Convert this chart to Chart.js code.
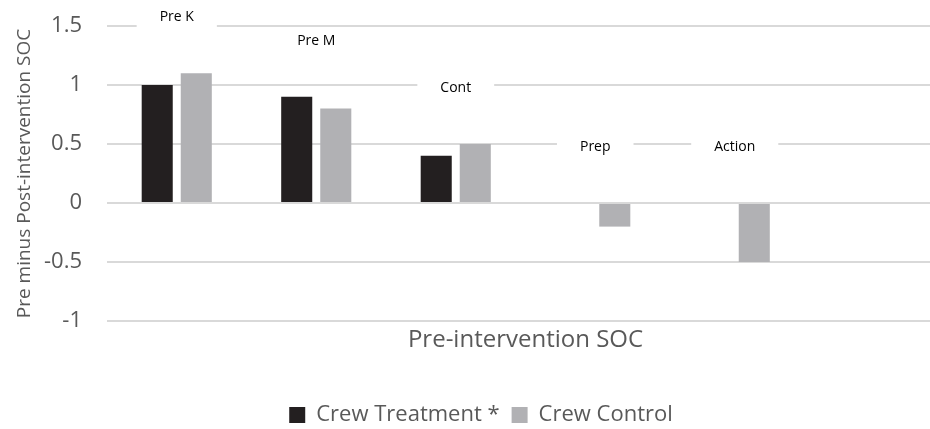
<!DOCTYPE html>
<html>
<head>
<meta charset="utf-8">
<script src="https://cdn.jsdelivr.net/npm/chart.js@4.4.0/dist/chart.umd.min.js"></script>
<style>
  html, body { margin: 0; padding: 0; background: #fff; overflow: hidden; }
  #wrap { position: absolute; left: 0; top: 0; width: 956px; height: 429px; }
</style>
</head>
<body>
<div id="wrap"><canvas id="myChart"></canvas></div>
<script>
// stages of change, last slot is empty (it runs off the right edge)
const categories = ['Pre K', 'Pre M', 'Cont', 'Prep', 'Action', ''];
const crewTreatment = [1.0, 0.9, 0.4, 0, 0, null];
const crewControl = [1.1, 0.8, 0.5, -0.2, -0.5, null];
const yTicks = [-1, -0.5, 0, 0.5, 1, 1.5];

const FONT = '"Open Sans", "DejaVu Sans", sans-serif';
const GREY_TEXT = '#595959';

// stage names sit above the bars on a white box, like the excel labels
const stageLabels = {
    id: 'stageLabels',
    afterDatasetsDraw(chart) {
        const { ctx, scales: { x, y } } = chart;
        ctx.save();
        ctx.font = '14px ' + FONT;
        ctx.textAlign = 'center';
        ctx.textBaseline = 'middle';
        categories.forEach((name, i) => {
            if (!name) return;
            const top = Math.max(0, crewTreatment[i] ?? 0, crewControl[i] ?? 0);
            const cx = x.getPixelForValue(i);
            const cy = y.getPixelForValue(top) - 56;
            const w = ctx.measureText(name).width + 46;
            ctx.fillStyle = '#fff';
            ctx.fillRect(cx - w / 2, cy - 13, w, 26);
            ctx.fillStyle = '#000';
            ctx.fillText(name, cx, cy);
        });
        ctx.restore();
    }
};

const ctx = document.getElementById('myChart').getContext('2d');
const chart = new Chart(ctx, {
    type: 'bar',
    data: {
        labels: categories,
        datasets: [{
            label: 'Crew Treatment *',
            data: crewTreatment,
            backgroundColor: '#231F20',
            categoryPercentage: 0.56,
            barPercentage: 0.795
        }, {
            label: 'Crew Control',
            data: crewControl,
            backgroundColor: '#B1B1B4',
            categoryPercentage: 0.56,
            barPercentage: 0.795
        }]
    },
    options: {
        responsive: true,
        maintainAspectRatio: false,
        animation: false,
        layout: { padding: { top: 26, right: 12, left: 18, bottom: -7 } },
        scales: {
            x: {
                grid: { display: false, drawTicks: false },
                border: { display: false },
                ticks: { display: false },
                title: {
                    display: true,
                    text: 'Pre-intervention SOC',
                    color: GREY_TEXT,
                    font: { family: FONT, size: 24 },
                    padding: { top: 0, bottom: 37 }
                },
                afterFit(scale) { scale.height = 71; }
            },
            y: {
                min: -1,
                max: 1.5,
                afterBuildTicks(scale) { scale.ticks = yTicks.map(v => ({ value: v })); },
                grid: { color: '#D9D9D9', lineWidth: 2, drawTicks: false },
                border: { display: false },
                ticks: {
                    color: GREY_TEXT,
                    font: { family: FONT, size: 22 },
                    padding: 25,
                    callback: v => String(v)
                },
                title: {
                    display: true,
                    text: 'Pre minus Post-intervention SOC',
                    color: GREY_TEXT,
                    font: { family: FONT, size: 19 },
                    padding: { top: -5, bottom: 0 }
                },
                afterFit(scale) {
                    scale.width = 89;
                    scale.paddingTop = 0;
                    scale.paddingBottom = 0;
                }
            }
        },
        plugins: {
            legend: {
                position: 'bottom',
                labels: {
                    color: GREY_TEXT,
                    font: { family: FONT, size: 22 },
                    boxWidth: 16,
                    boxHeight: 16,
                    padding: 12
                }
            },
            tooltip: { enabled: false }
        }
    },
    plugins: [stageLabels]
});
</script>
</body>
</html>
